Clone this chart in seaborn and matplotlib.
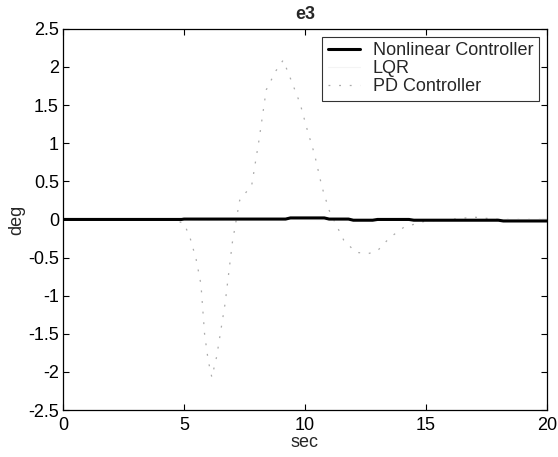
import numpy as np
import pandas as pd
import seaborn as sns
import matplotlib
matplotlib.use("Agg")
import matplotlib.pyplot as plt

# Data
t_nl = [0, 4.9, 5.0, 9.2, 9.4, 10.8, 11.0, 11.8, 12.0, 12.8, 13.0, 14.3, 14.5, 18.0, 18.2, 20]
e_nl = [0.0, 0.0, 0.005, 0.005, 0.02, 0.02, 0.005, 0.005, -0.01, -0.01, 0.0, 0.0, -0.01, -0.01, -0.02, -0.02]

t_lqr = [0, 5, 6, 8, 10, 12, 14, 20]
e_lqr = [0.0, 0.0, -0.01, 0.01, 0.0, -0.01, 0.0, 0.0]

t_pd = [0, 4.5, 5.0, 5.25, 5.5, 5.7, 5.85, 6.0, 6.15, 6.35, 6.7, 7.0, 7.3, 7.8, 8.1, 8.4, 8.8, 9.1,
        9.4, 9.8, 10.1, 10.4, 10.7, 11.0, 11.6, 12.1, 12.6, 13.0, 13.5, 14.1, 15.0, 16.0, 17.0, 18.0, 20]
e_pd = [0.0, 0.0, -0.05, -0.24, -0.52, -0.85, -1.5, -1.85, -2.07, -1.8, -1.1, -0.3, 0.25, 0.45, 1.04, 1.7, 1.95, 2.09,
        1.85, 1.52, 1.17, 0.85, 0.43, 0.12, -0.27, -0.43, -0.45, -0.41, -0.24, -0.1, -0.02, 0.0, 0.03, 0.0, 0.0]

series = ["Nonlinear Controller", "LQR", "PD Controller"]

df = pd.concat([
    pd.DataFrame({"t": t_nl, "e": e_nl, "s": series[0]}),
    pd.DataFrame({"t": t_lqr, "e": e_lqr, "s": series[1]}),
    pd.DataFrame({"t": t_pd, "e": e_pd, "s": series[2]}),
])

sns.set_style("white")
plt.rcParams['font.family'] = ['Liberation Sans', 'DejaVu Sans']

fig = plt.figure(figsize=(5.58, 4.57), dpi=100)
ax = fig.add_axes([0.113, 0.1028, 0.867, 0.834])

styles = {
    series[0]: dict(color="black", lw=2.2, ls="-"),
    series[1]: dict(color="#f4f4f4", lw=0.8, ls="-"),
    series[2]: dict(color="#ababab", lw=0.9, ls=(0, (1.5, 7))),
}
for name in [series[2], series[1], series[0]]:
    sub = df[df["s"] == name]
    st = styles[name]
    sns.lineplot(data=sub, x="t", y="e", ax=ax, color=st["color"], linewidth=st["lw"],
                 linestyle=st["ls"], label=name, estimator=None, sort=False)

fs = 13
ax.set_xlim(0, 20)
ax.set_ylim(-2.5, 2.5)
ax.set_xticks([0, 5, 10, 15, 20])
ax.set_xticklabels(["0", "5", "10", "15", "20"])
yt = [-2.5, -2, -1.5, -1, -0.5, 0, 0.5, 1, 1.5, 2, 2.5]
ax.set_yticks(yt)
ax.set_yticklabels(["-2.5", "-2", "-1.5", "-1", "-0.5", "0", "0.5", "1", "1.5", "2", "2.5"])
ax.tick_params(direction="in", length=4, width=0.8, top=True, right=True, labelsize=fs,
               bottom=True, left=True, colors="black")
ax.tick_params(axis="x", pad=5)
ax.tick_params(axis="y", pad=3)
for sp in ax.spines.values():
    sp.set_color("black")
    sp.set_linewidth(0.9)

ax.set_title("e3", fontsize=fs, fontweight="bold", pad=7)
ax.set_xlabel("sec", fontsize=fs, labelpad=0)
ax.set_ylabel("deg", fontsize=fs, labelpad=2)

handles, labels = ax.get_legend_handles_labels()
order = [labels.index(n) for n in series]
leg = ax.legend([handles[i] for i in order], [labels[i] for i in order], loc="upper right",
                fontsize=fs, frameon=True, fancybox=False, edgecolor="black",
                borderpad=0.3, labelspacing=0.05, handlelength=1.8, handletextpad=0.7,
                borderaxespad=0.45)
leg.get_frame().set_linewidth(0.8)

fig.savefig("out.png", dpi=100)
